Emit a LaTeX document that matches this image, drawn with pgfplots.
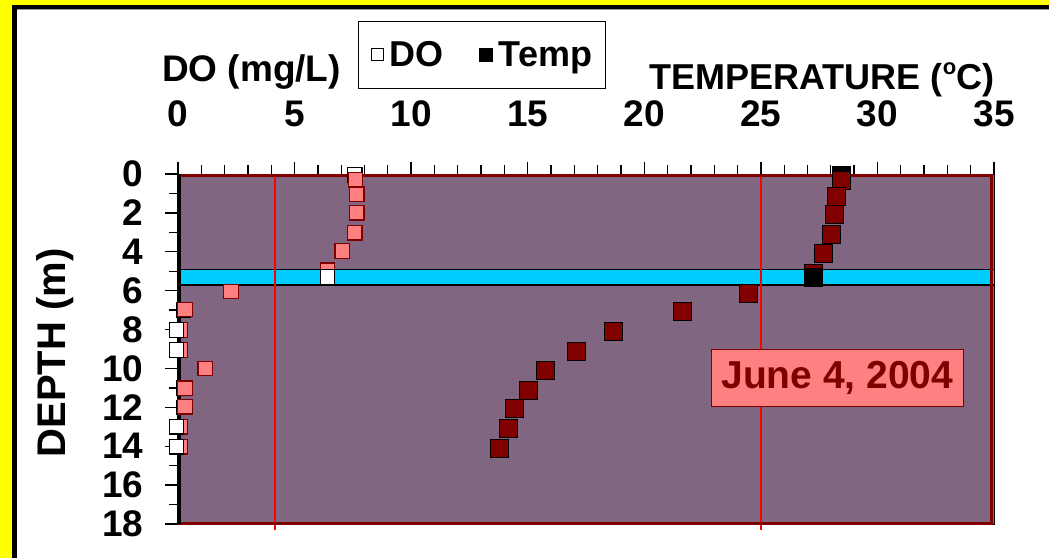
\documentclass[border=0pt]{standalone}
\usepackage{pgfplots}
\pgfplotsset{compat=1.18}
\usepackage{fontspec}
\setmainfont{Liberation Sans}

\definecolor{plotbg}{RGB}{128,102,128}
\definecolor{bandcyan}{RGB}{0,204,255}
\definecolor{pinkdo}{RGB}{255,128,128}
\definecolor{maroon}{RGB}{128,0,0}
\definecolor{frameyellow}{RGB}{255,255,0}

\newcommand{\bigbf}[1]{\fontsize{#1}{#1}\selectfont\bfseries}

\begin{document}
\begin{tikzpicture}
% page frame, 1px = 1pt
\fill[white] (0,0) rectangle (1049pt,558pt);
\fill[frameyellow] (0,553pt) rectangle (1049pt,558pt);
\fill[frameyellow] (0,0) rectangle (12pt,558pt);
\fill[black] (12pt,549pt) rectangle (1049pt,553pt);
\fill[black!40] (17pt,548pt) rectangle (1049pt,549pt);
\fill[black] (12pt,0) rectangle (17pt,553pt);

\begin{axis}[
    at={(178pt,34pt)}, anchor=south west,
    width=816pt, height=350pt, scale only axis,
    xmin=0, xmax=35, ymin=0, ymax=18,
    y dir=reverse,
    clip=false,
    axis background/.style={fill=plotbg},
    axis line style={draw=none},
    xtick={0,5,...,35}, minor x tick num=4,
    ytick={0,2,...,18}, minor y tick num=1,
    xtick pos=upper, xticklabel pos=upper, ytick pos=left,
    tick align=outside,
    major tick length=12.5pt, minor tick length=9pt,
    tick style={black, line width=1.3pt},
    /pgf/number format/assume math mode=true,
    ticklabel style={font=\bigbf{37}, inner sep=0pt},
    xticklabel style={anchor=base},
    xticklabel shift=35pt,
    yticklabel style={anchor=east},
    yticklabel shift=22pt,
    legend columns=2,
    legend style={at={(0.372,1.341)}, anchor=center,
        draw=black, line width=0.8pt, fill=white,
        font=\bigbf{36},
        inner xsep=12pt, inner ysep=19pt,
        nodes={inner xsep=1pt, inner ysep=1pt},
        /tikz/every even column/.append style={column sep=34pt}},
    legend image code/.code={\draw[#1] plot coordinates {(0pt,0pt)};
        \path (-7pt,0pt) (11pt,0pt);},
]

% thermocline band
\fill[bandcyan] (axis cs:0,4.9) rectangle (axis cs:35,5.71);
\draw[black, line width=1.3pt] (axis cs:0,4.9) -- (axis cs:35,4.9);
\draw[black, line width=1.3pt] (axis cs:0,5.71) -- (axis cs:35,5.71);

% red grid lines
\draw[red, line width=1.3pt] (axis cs:4.16,0) -- ([yshift=-6pt]axis cs:4.16,18);
\draw[red, line width=1.3pt] (axis cs:25,0) -- ([yshift=-6pt]axis cs:25,18);

% plot border
\draw[black, line width=1pt] (axis cs:0,0) -- (axis cs:35,0) -- (axis cs:35,18) -- (axis cs:0,18);
\draw[maroon, line width=3pt] ([yshift=1pt]axis cs:0,18) -- ([xshift=-2.3pt,yshift=1pt]axis cs:35,18)
    -- ([xshift=-2.3pt,yshift=-1.5pt]axis cs:35,0) -- ([yshift=-1.5pt]axis cs:0,0);
\draw[black, line width=4pt] ([xshift=0.7pt]axis cs:0,0) -- ([xshift=0.7pt]axis cs:0,18);

\addlegendimage{only marks, mark=square*, mark size=6pt,
    mark options={fill=white, draw=black, line width=1pt}}
\addlegendentry{DO}
\addlegendimage{only marks, mark=square*, mark size=6.5pt,
    mark options={fill=black, draw=black}}
\addlegendentry{Temp}

% DO, white (behind)
\addplot[only marks, mark=square*, mark size=7.2pt, forget plot,
    mark options={fill=white, draw=black, line width=1.2pt}]
    coordinates {(7.58,0.05)(0.23,7.0)(0.23,11.0)(0.23,12.0)};

% DO, pink
\addplot[only marks, mark=square*, mark size=7.2pt, forget plot,
    mark options={fill=pinkdo, draw=maroon, line width=1.2pt}]
    coordinates {
    (7.61,0.3)(7.67,1.04)(7.67,1.99)(7.58,3.02)(7.04,3.96)(6.41,4.95)
    (2.27,6.05)(0.30,6.96)(0.09,8.02)(0.09,9.05)(1.17,10.0)
    (0.30,11.02)(0.30,11.97)(0.09,13.0)(0.09,14.03)
    };

% DO, white (front)
\addplot[only marks, mark=square*, mark size=7.2pt, forget plot,
    mark options={fill=white, draw=black, line width=1.2pt}]
    coordinates {(6.41,5.3)(-0.06,8.02)(-0.06,9.05)(-0.06,13.0)(-0.06,14.03)};

% Temp, black (behind)
\addplot[only marks, mark=square*, mark size=9pt, forget plot,
    mark options={fill=black, draw=none}]
    coordinates {(28.44,0.05)};

% Temp, maroon
\addplot[only marks, mark=square*, mark size=9pt, forget plot,
    mark options={fill=maroon, draw=none}]
    coordinates {
    (28.44,0.3)(28.23,1.13)(28.13,2.07)(28.03,3.1)(27.66,4.08)(27.26,5.12)
    (24.44,6.14)(21.61,7.06)(18.66,8.09)(17.07,9.12)(15.75,10.1)
    (15.01,11.13)(14.42,12.05)(14.16,13.08)(13.77,14.11)
    };

% Temp, black (front)
\addplot[only marks, mark=square*, mark size=9pt, forget plot,
    mark options={fill=black, draw=none}]
    coordinates {(27.26,5.32)};

\node[fill=pinkdo, draw=maroon, line width=1.5pt, text=maroon, font=\bigbf{39},
    minimum width=252pt, minimum height=57pt, inner sep=0pt]
    at (axis cs:28.28,10.49) {June 4, 2004};
\end{axis}

\node[anchor=base, font=\bigbf{37}] at (251.5pt,476pt) {DO (mg/L)};
\node[anchor=base, font=\bigbf{36}] at (822pt,468pt)
    {TEMPERATURE (\raisebox{15pt}{\fontsize{22}{22}\selectfont o}C)};
\node[rotate=90, font=\bigbf{40}] at (55pt,205pt) {DEPTH (m)};

\pgfresetboundingbox
\path[use as bounding box] (0,0) rectangle (1049pt,558pt);
\end{tikzpicture}
\end{document}
